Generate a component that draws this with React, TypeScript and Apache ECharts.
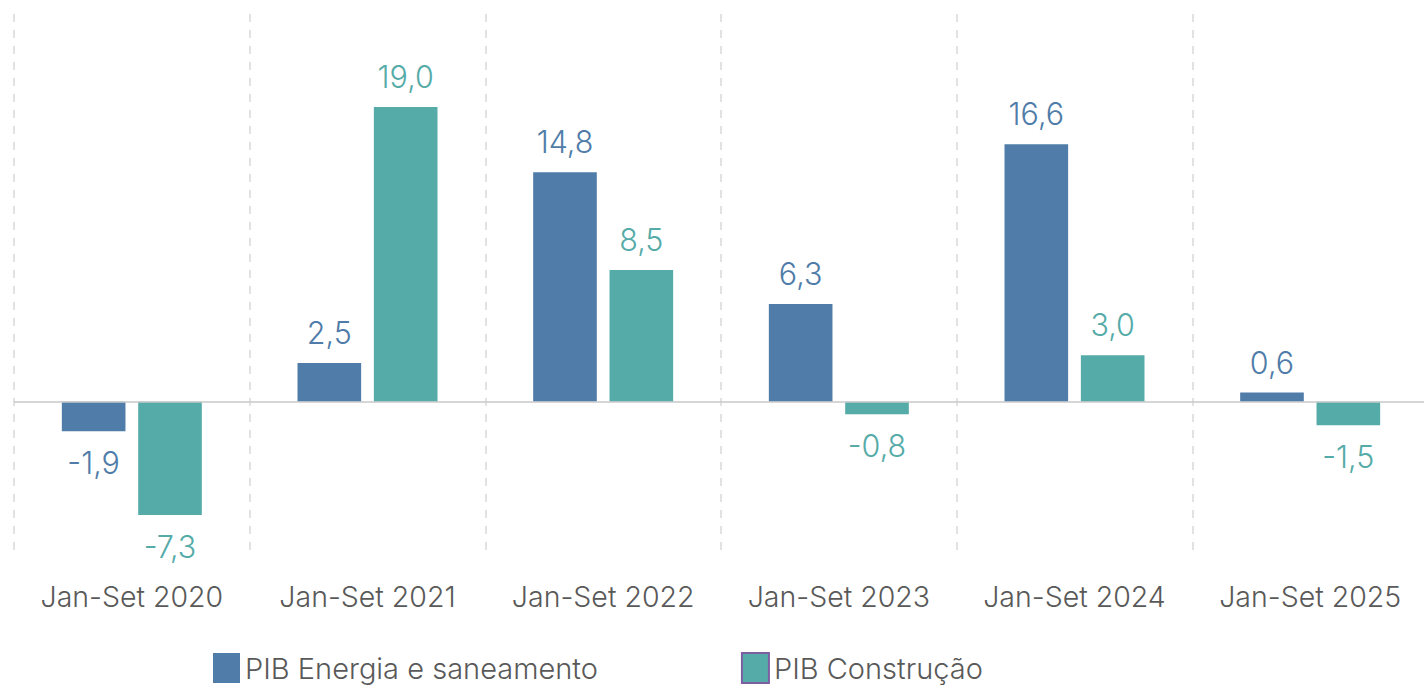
import React, { useEffect, useRef } from "react";
import * as echarts from "echarts";

const categories = ["Jan-Set 2020", "Jan-Set 2021", "Jan-Set 2022", "Jan-Set 2023", "Jan-Set 2024", "Jan-Set 2025"];
const energia = [-1.9, 2.5, 14.8, 6.3, 16.6, 0.6];
const construcao = [-7.3, 19.0, 8.5, -0.8, 3.0, -1.5];
const seriesNames = ["PIB Energia e saneamento", "PIB Construção"];

const BLUE = "#4f7ca8";
const TEAL = "#55aba8";
const FONT = "Inter";

const fmt = (v: number) => v.toFixed(1).replace(".", ",");

export default function App() {
  const ref = useRef<HTMLDivElement>(null);
  useEffect(() => {
    if (!ref.current) return;
    const chart = echarts.init(ref.current, undefined, { renderer: "svg" });
    const label = (color: string, neg: boolean) => ({
      show: true,
      position: neg ? ("bottom" as const) : ("top" as const),
      distance: neg ? 16 : 15,
      color,
      fontFamily: FONT,
      fontWeight: 300,
      fontSize: 30.5,
      formatter: (p: any) => fmt(p.value),
    });
    const mkData = (arr: number[], color: string) =>
      arr.map((v) => ({ value: v, label: label(color, v < 0) }));
    chart.setOption({
      animation: false,
      grid: { left: 14, right: 0, top: 14, bottom: 128, containLabel: false },
      legend: {
        left: 213,
        top: 652,
        padding: 0,
        itemWidth: 27,
        itemHeight: 30,
        itemGap: 143,
        icon: "rect",
        textStyle: { fontFamily: FONT, fontWeight: 300, fontSize: 29, color: "#595959" },
        data: [
          { name: seriesNames[0], itemStyle: { color: BLUE } },
          { name: seriesNames[1], itemStyle: { color: TEAL, borderColor: "#7b5fa0", borderWidth: 2 } },
        ],
      },
      xAxis: {
        type: "category",
        data: categories,
        axisLine: { show: false, onZero: false },
        axisTick: { show: false },
        axisLabel: { interval: 0, margin: 25, fontFamily: FONT, fontWeight: 300, fontSize: 28.5, color: "#595959" },
        splitLine: { show: true, interval: 0, lineStyle: { type: [8, 8], color: "#d9d9d9", width: 1.5 } },
      },
      yAxis: {
        type: "value",
        min: -10,
        max: 25,
        show: false,
        splitLine: { show: false },
      },
      series: [
        {
          name: seriesNames[0],
          type: "bar",
          barWidth: "27%",
          barGap: "20%",
          itemStyle: { color: BLUE },
          data: mkData(energia, BLUE),
          markLine: {
            silent: true,
            symbol: "none",
            label: { show: false },
            lineStyle: { color: "#c8c8c8", type: "solid", width: 1.5 },
            data: [{ yAxis: 0 }],
          },
        },
        {
          name: seriesNames[1],
          type: "bar",
          barWidth: "27%",
          itemStyle: { color: TEAL },
          data: mkData(construcao, TEAL),
        },
      ],
    });
    return () => chart.dispose();
  }, []);
  return (
    <div style={{ position: "absolute", left: 0, top: 0, width: 1424, height: 685, overflow: "hidden" }}>
      <div ref={ref} style={{ width: 1428, height: 685 }} />
    </div>
  );
}
